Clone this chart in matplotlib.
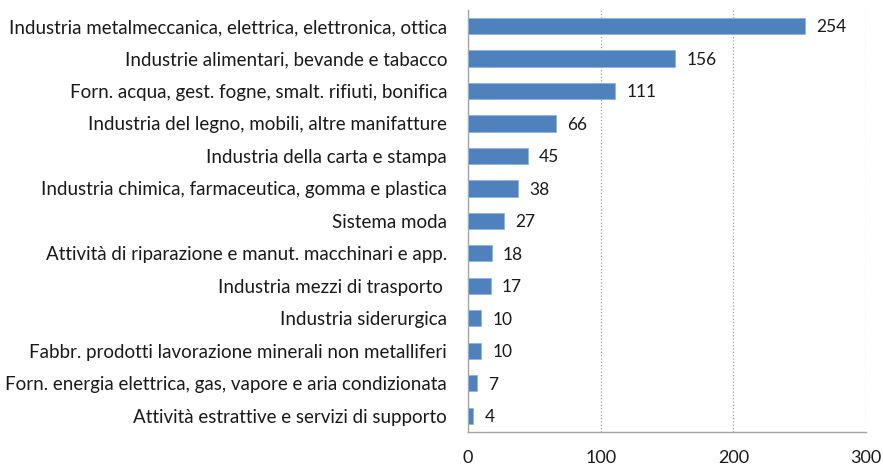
import matplotlib
matplotlib.use("Agg")
import matplotlib.pyplot as plt

categories = [
    "Industria metalmeccanica, elettrica, elettronica, ottica",
    "Industrie alimentari, bevande e tabacco",
    "Forn. acqua, gest. fogne, smalt. rifiuti, bonifica",
    "Industria del legno, mobili, altre manifatture",
    "Industria della carta e stampa",
    "Industria chimica, farmaceutica, gomma e plastica",
    "Sistema moda",
    "Attività di riparazione e manut. macchinari e app.",
    "Industria mezzi di trasporto ",
    "Industria siderurgica",
    "Fabbr. prodotti lavorazione minerali non metalliferi",
    "Forn. energia elettrica, gas, vapore e aria condizionata",
    "Attività estrattive e servizi di supporto",
]
values = [254, 156, 111, 66, 45, 38, 27, 18, 17, 10, 10, 7, 4]
xticks = [0, 100, 200, 300]

plt.rcParams['font.family'] = ['Lato', 'DejaVu Sans']

fig = plt.figure(figsize=(8.83, 4.66), dpi=100)
ax = fig.add_axes([0.530, 0.073, 0.451, 0.906])

ypos = list(range(len(categories)))
ax.barh(ypos, values, height=0.5, color='#4F81BD', edgecolor='#8EB4E3', linewidth=0.6, zorder=3)
for y, v in zip(ypos, values):
    ax.annotate(str(v), (v, y), xytext=(8, -1), textcoords='offset points',
                va='center', ha='left', fontsize=12.5, color='#1a1a1a')

ax.set_ylim(len(categories) - 0.5, -0.5)
ax.set_xlim(0, 300)
ax.set_xticks(xticks)
ax.set_xticklabels([str(t) for t in xticks], fontsize=13)
ax.set_yticks(ypos)
ax.set_yticklabels(categories, fontsize=13.5)
ax.tick_params(axis='both', length=0, colors='#1a1a1a')
ax.tick_params(axis='y', pad=15)
ax.tick_params(axis='x', pad=13)
ax.xaxis.grid(True, linestyle=':', color='#A0A0A0', linewidth=0.9, zorder=0)
for s in ['top', 'right']:
    ax.spines[s].set_visible(False)
for s in ['left', 'bottom']:
    ax.spines[s].set_color('#A6A6A6')
    ax.spines[s].set_linewidth(1.0)

fig.savefig('out.png', dpi=100)
